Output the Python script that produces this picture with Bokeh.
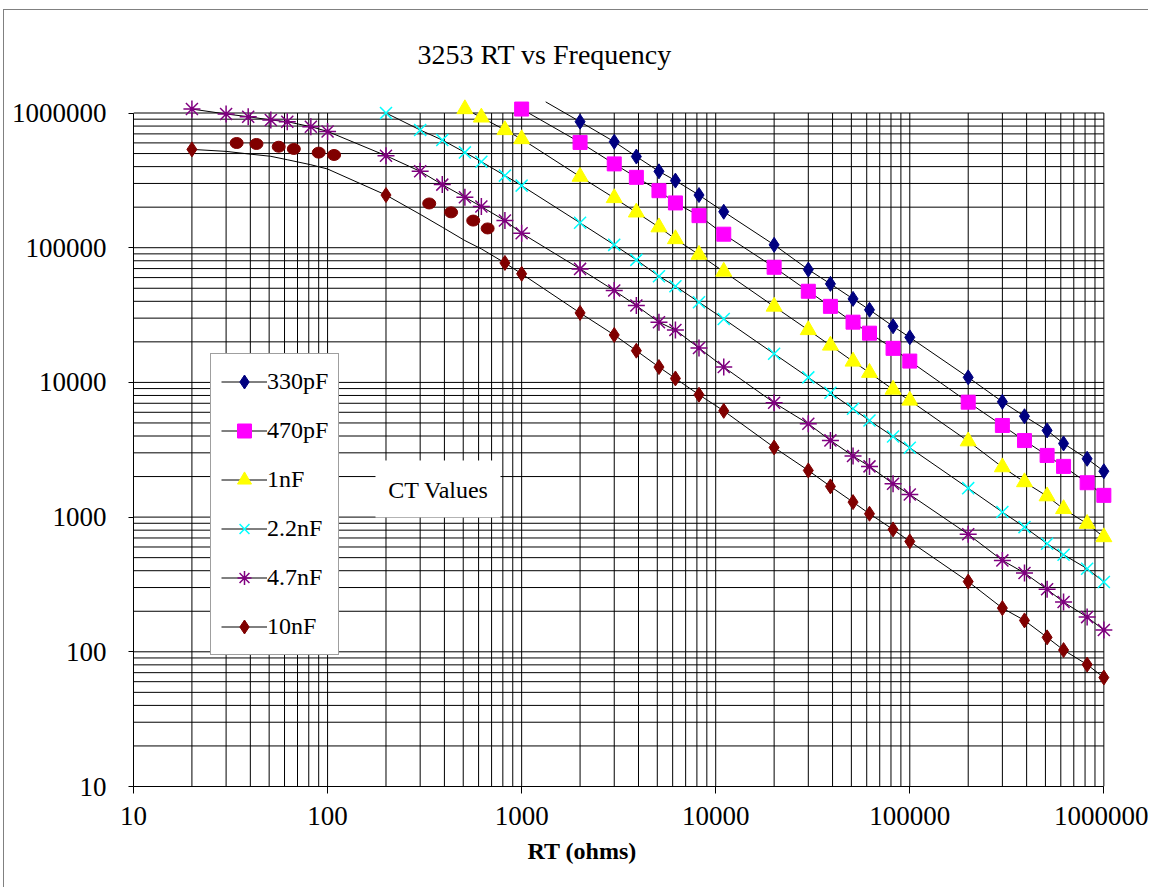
from bokeh.plotting import figure
from bokeh.models import (Range1d, FixedTicker, NumeralTickFormatter, Legend,
                          LegendItem, Label, BoxAnnotation, Title)
from bokeh.embed import file_html
from bokeh.resources import INLINE

# ---------------- data ----------------
title = "3253 RT vs Frequency"
x_label = "RT (ohms)"
note_text = "CT Values"
decades = [10, 100, 1000, 10000, 100000, 1000000]

rt_all = [20, 30, 39, 51, 62, 82, 100,
          200, 300, 390, 510, 620, 820, 1000,
          2000, 3000, 3900, 5100, 6200, 8200, 11000,
          20000, 30000, 39000, 51000, 62000, 82000, 100000,
          200000, 300000, 390000, 510000, 620000, 820000, 1000000]

rt_330p = [2000, 3000, 3900, 5100, 6200, 8200, 11000,
           20000, 30000, 39000, 51000, 62000, 82000, 100000,
           200000, 300000, 390000, 510000, 620000, 820000, 1000000]
f_330p = [862000, 612000, 475000, 369000, 315000, 246000, 185000,
          105000, 68800, 53900, 41700, 34600, 26100, 21600,
          10900, 7180, 5610, 4400, 3520, 2710, 2190]
line_330p_rt = [1330] + rt_330p
line_330p_f = [1210000] + f_330p

rt_470p = [1000, 2000, 3000, 3900, 5100, 6200, 8200, 11000,
           20000, 30000, 39000, 51000, 62000, 82000, 100000,
           200000, 300000, 390000, 510000, 620000, 820000, 1000000]
f_470p = [1070000, 605000, 419000, 333000, 265000, 215000, 173000, 126000,
          71600, 47500, 36700, 28000, 23200, 17900, 14400,
          7130, 4790, 3700, 2870, 2380, 1800, 1450]

rt_1n = [510, 620, 820, 1000, 2000, 3000, 3900, 5100, 6200, 8200, 11000,
         20000, 30000, 39000, 51000, 62000, 82000, 100000,
         200000, 300000, 390000, 510000, 620000, 820000, 1000000]
f_1n = [1070000, 928000, 748000, 641000, 337000, 234000, 183000, 142000, 116000, 88800, 66500,
        36600, 24500, 18800, 14300, 11800, 8850, 7340,
        3660, 2350, 1820, 1430, 1150, 893, 711]

rt_2n2 = [200, 300, 390, 510, 620, 820, 1000,
          2000, 3000, 3900, 5100, 6200, 8200, 11000,
          20000, 30000, 39000, 51000, 62000, 82000, 100000,
          200000, 300000, 390000, 510000, 620000, 820000, 1000000]
f_2n2 = [1000000, 748000, 630000, 510000, 435000, 343000, 289000,
         153000, 105000, 81200, 61400, 51800, 39400, 29600,
         16300, 10900, 8370, 6370, 5210, 3970, 3270,
         1640, 1090, 843, 635, 526, 414, 330]

rt_4n7 = rt_all
f_4n7 = [1070000, 983000, 939000, 887000, 862000, 791000, 730000,
         482000, 369000, 294000, 237000, 202000, 159000, 128000,
         69600, 48100, 37200, 28000, 24500, 18000, 13000,
         7060, 4930, 3710, 2840, 2380, 1770, 1470,
         745, 477, 385, 291, 234, 181, 145]

rt_10n = [20, 200, 820, 1000,
          2000, 3000, 3900, 5100, 6200, 8200, 11000,
          20000, 30000, 39000, 51000, 62000, 82000, 100000,
          200000, 300000, 390000, 510000, 620000, 820000, 1000000]
f_10n = [537000, 246000, 77100, 64000,
         32800, 22500, 17200, 13000, 10700, 8100, 6150,
         3290, 2220, 1690, 1292, 1059, 810, 660,
         332, 211, 171, 128, 103, 80.4, 64.4]
# extra round 10nF marks seen in the reference
rt_10n_dots = [34, 43, 56, 67, 90, 108, 334, 433, 563, 668]
f_10n_dots = [599000, 589000, 562000, 541000, 508000, 488000, 213000, 183000, 159000, 139000]
# black curve of the 10nF series
line_10n_rt = rt_all
line_10n_f = [537000, 519000, 497000, 477000, 450000, 413000, 384000,
              246000, 177000, 142000, 113000, 98000, 77100, 64000,
              32800, 22500, 17200, 13000, 10700, 8100, 6150,
              3290, 2220, 1690, 1292, 1059, 810, 660,
              332, 211, 171, 128, 103, 80.4, 64.4]

FONT = "Liberation Serif"
NAVY, MAGENTA, YELLOW, CYAN, PURPLE, MAROON = "#000080", "#FF00FF", "#FFFF00", "#00FFFF", "#800080", "#800000"

# ---------------- figure ----------------
p = figure(width=1145, height=878, x_axis_type="log", y_axis_type="log",
           x_range=Range1d(10, 10 ** 6.06), y_range=Range1d(10, 10 ** 6.13),
           output_backend="svg", toolbar_location=None,
           min_border_left=129, min_border_right=34, min_border_top=85, min_border_bottom=102)
p.styles = {"margin-left": "3px", "margin-top": "9px",
            "border-left": "1px solid #808080", "border-top": "1px solid #808080"}
p.outline_line_color = None
p.background_fill_color = "white"
p.border_fill_color = "white"
p.xgrid.visible = False
p.ygrid.visible = False

p.title = Title(text=title, align="left", offset=284, standoff=48, vertical_align="top",
                text_font=FONT, text_font_size="28px", text_font_style="normal",
                text_color="black")
p.add_layout(Title(text=x_label, align="left", offset=394, standoff=20, vertical_align="top",
                   text_font=FONT, text_font_size="24px", text_font_style="bold",
                   text_color="black"), "below")

# log grid (1..9 per decade) limited to the 10 .. 1e6 box
grid_vals = [d * k for d in decades[:-1] for k in range(1, 10)] + [decades[-1]]
lo, hi = decades[0], decades[-1]
p.segment(x0=grid_vals, y0=[lo] * len(grid_vals), x1=grid_vals, y1=[hi] * len(grid_vals),
          line_color="black", line_width=1)
p.segment(x0=[lo] * len(grid_vals), y0=grid_vals, x1=[hi] * len(grid_vals), y1=grid_vals,
          line_color="black", line_width=1)

for ax in (p.xaxis[0], p.yaxis[0]):
    ax.ticker = FixedTicker(ticks=decades, minor_ticks=[])
    ax.formatter = NumeralTickFormatter(format="0")
    ax.bounds = (lo, hi)
    ax.major_tick_in = 0
    ax.minor_tick_line_color = None
    ax.axis_line_color = "black"
    ax.major_tick_line_color = "black"
    ax.major_label_text_font = FONT
    ax.major_label_text_font_size = "27px"
    ax.major_label_text_color = "black"
p.xaxis[0].major_tick_out = 7
p.xaxis[0].major_label_standoff = 13
p.yaxis[0].major_tick_out = 5
p.yaxis[0].major_label_standoff = 22

# ---------------- series ----------------
def series(lx, ly, mx, my, marker, color, size, lw=1):
    lr = p.line(lx, ly, line_color="black", line_width=1)
    mr = p.scatter(mx, my, marker=marker, size=size, fill_color=color,
                   line_color=color, line_width=lw)
    return lr, mr

items = []
r = series(line_330p_rt, line_330p_f, rt_330p, f_330p, "diamond", NAVY, 15)
items.append(LegendItem(label="330pF", renderers=list(r)))
r = series(rt_470p, f_470p, rt_470p, f_470p, "square", MAGENTA, 14)
items.append(LegendItem(label="470pF", renderers=list(r)))
r = series(rt_1n, f_1n, rt_1n, f_1n, "triangle", YELLOW, 16)
items.append(LegendItem(label="1nF", renderers=list(r)))
r = series(rt_2n2, f_2n2, rt_2n2, f_2n2, "x", CYAN, 17, 1.5)
items.append(LegendItem(label="2.2nF", renderers=list(r)))
r = series(rt_4n7, f_4n7, rt_4n7, f_4n7, "asterisk", PURPLE, 17, 1.5)
items.append(LegendItem(label="4.7nF", renderers=list(r)))
r = series(line_10n_rt, line_10n_f, rt_10n, f_10n, "diamond", MAROON, 15)
items.append(LegendItem(label="10nF", renderers=list(r)))
p.ellipse(x=rt_10n_dots, y=f_10n_dots, width=13, height=11,
          width_units="screen", height_units="screen",
          fill_color=MAROON, line_color=MAROON)

legend = Legend(items=items, location=(77, 131),
                label_text_font=FONT, label_text_font_size="24px", label_text_color="black",
                label_standoff=0, glyph_width=46, glyph_height=35, label_height=35,
                spacing=14, padding=10, margin=0,
                border_line_color="#404040", border_line_width=1,
                background_fill_color="white", background_fill_alpha=1)
p.add_layout(legend)

# ---------------- note box ----------------
p.add_layout(BoxAnnotation(left=242, right=367, bottom=269, top=326,
                           left_units="screen", right_units="screen",
                           bottom_units="screen", top_units="screen",
                           fill_color="white", fill_alpha=1, line_color=None))
p.add_layout(Label(x=305, y=297, x_units="screen", y_units="screen", text=note_text,
                   text_align="center", text_baseline="middle",
                   text_font=FONT, text_font_size="24px", text_color="black"))

open("out.html", "w").write(file_html(p, INLINE))
